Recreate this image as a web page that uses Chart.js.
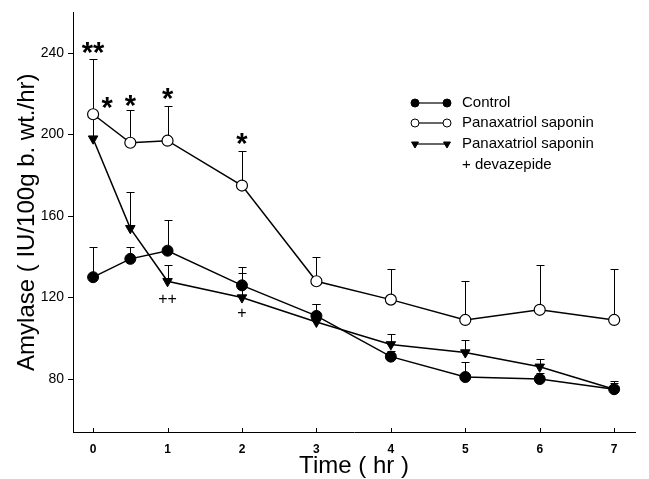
<!DOCTYPE html>
<html>
<head>
<meta charset="utf-8">
<script src="https://cdn.jsdelivr.net/npm/chart.js@4.4.1/dist/chart.umd.min.js"></script>
<style>
  html, body { margin: 0; padding: 0; background: #fff; }
  canvas { display: block; }
</style>
</head>
<body>
<canvas id="c" width="649" height="479"></canvas>
<script>
// time points (hr)
const times = [0, 0.5, 1, 2, 3, 4, 5, 6, 7];
const xTicks = [0, 1, 2, 3, 4, 5, 6, 7];
const yTicks = [80, 120, 160, 200, 240];

// amylase means and upper SD
const control = [130, 139, 143, 126, 111, 91, 81, 80, 75];
const controlSD = [15, 6, 15, 9, 6, 3, 7.5, 3, 3];
const saponin = [210, 196, 197, 175, 128, 119, 109, 114, 109];
const saponinSD = [27, 16, 17, 17, 12, 15, 19, 22, 25];
const saponinDev = [198, 154, 128, 120, 108, 97, 93, 86, 75];
const saponinDevSD = [10, 18, 8, 12, 9, 5, 6, 4, 4];

// significance marks
const markText = ['**', '*', '*', '*', '*', '++', '+'];
const markX = [0, 0.19, 0.5, 1, 2, 1, 2];
const markY = [242.5, 215.5, 216.5, 220, 198, 119.5, 112.5];

const FONT = '"Liberation Sans", Arial, Helvetica, sans-serif';

const toPts = arr => arr.map((v, i) => ({ x: times[i], y: v }));

const errorBars = {
  id: 'errorBars',
  beforeDatasetsDraw(chart) {
    const { ctx, scales: { x, y } } = chart;
    ctx.save();
    ctx.strokeStyle = '#000';
    ctx.lineWidth = 1;
    chart.data.datasets.forEach(ds => {
      ds.sd.forEach((sd, i) => {
        const px = Math.round(x.getPixelForValue(times[i])) + 0.5;
        const y0 = y.getPixelForValue(ds.data[i].y);
        const y1 = Math.round(y.getPixelForValue(ds.data[i].y + sd)) + 0.5;
        ctx.beginPath();
        ctx.moveTo(px, y0);
        ctx.lineTo(px, y1);
        ctx.moveTo(px - 4, y1);
        ctx.lineTo(px + 4, y1);
        ctx.stroke();
      });
    });
    ctx.restore();
  }
};

const extras = {
  id: 'extras',
  afterDraw(chart) {
    const { ctx, scales: { x, y } } = chart;
    ctx.save();
    // inward x ticks
    ctx.strokeStyle = '#000';
    ctx.lineWidth = 1;
    const base = chart.chartArea.bottom;
    xTicks.forEach(t => {
      const px = Math.round(x.getPixelForValue(t)) + 0.5;
      ctx.beginPath();
      ctx.moveTo(px, base);
      ctx.lineTo(px, base - 4);
      ctx.stroke();
    });

    // significance marks
    ctx.fillStyle = '#000';
    ctx.textAlign = 'center';
    ctx.textBaseline = 'alphabetic';
    markText.forEach((t, i) => {
      const star = t.indexOf('*') >= 0;
      ctx.font = star ? 'bold 29px ' + FONT : '16px ' + FONT;
      const m = ctx.measureText(t);
      const px = x.getPixelForValue(markX[i]);
      const py = y.getPixelForValue(markY[i]);
      ctx.fillText(t, px, py + (m.actualBoundingBoxAscent - m.actualBoundingBoxDescent) / 2);
    });

    // legend
    const rows = [103, 123, 144];
    const x0 = 415, x1 = 447;
    ctx.font = '15px ' + FONT;
    ctx.textAlign = 'left';
    ctx.textBaseline = 'middle';
    chart.data.datasets.forEach((ds, i) => {
      const ry = rows[i];
      ctx.beginPath();
      ctx.lineWidth = 1.2;
      ctx.strokeStyle = '#000';
      ctx.moveTo(x0, ry);
      ctx.lineTo(x1, ry);
      ctx.stroke();
      ctx.fillStyle = ds.pointBackgroundColor;
      ctx.lineWidth = 1;
      const opts = { pointStyle: ds.pointStyle, radius: 4, rotation: ds.pointRotation || 0, borderWidth: 1 };
      Chart.helpers.drawPoint(ctx, opts, x0, ry);
      Chart.helpers.drawPoint(ctx, opts, x1, ry);
      ctx.fillStyle = '#000';
      ctx.fillText(ds.label, 462, ry);
    });
    ctx.fillText('+ devazepide', 462, 165);
    ctx.restore();
  }
};

new Chart(document.getElementById('c'), {
  type: 'line',
  data: {
    datasets: [
      {
        label: 'Control',
        data: toPts(control), sd: controlSD,
        borderColor: '#000', borderWidth: 1.5,
        pointStyle: 'circle', pointRadius: 5.5,
        pointBackgroundColor: '#000', pointBorderColor: '#000', pointBorderWidth: 1
      },
      {
        label: 'Panaxatriol saponin',
        data: toPts(saponin), sd: saponinSD,
        borderColor: '#000', borderWidth: 1.5,
        pointStyle: 'circle', pointRadius: 5.5,
        pointBackgroundColor: '#fff', pointBorderColor: '#000', pointBorderWidth: 1.2
      },
      {
        label: 'Panaxatriol saponin',
        data: toPts(saponinDev), sd: saponinDevSD,
        borderColor: '#000', borderWidth: 1.5,
        pointStyle: 'triangle', pointRotation: 180, pointRadius: 5.5,
        pointBackgroundColor: '#000', pointBorderColor: '#000', pointBorderWidth: 1
      }
    ]
  },
  options: {
    responsive: false,
    animation: false,
    layout: { padding: { top: 10, right: 14, left: 0, bottom: 0 } },
    plugins: { legend: { display: false }, tooltip: { enabled: false } },
    scales: {
      x: {
        type: 'linear', min: -0.27, max: 7.28,
        afterBuildTicks: s => { s.ticks = xTicks.map(v => ({ value: v })); },
        afterFit: s => { s.height = 47; },
        grid: { drawOnChartArea: false, drawTicks: false },
        border: { color: '#000', width: 1 },
        ticks: { padding: 10, color: '#000', autoSkip: false, maxRotation: 0,
                 font: { family: FONT, size: 12, weight: 'bold' } },
        title: { display: true, text: 'Time ( hr )', color: '#000',
                 font: { family: FONT, size: 24 }, padding: { top: 0, bottom: -2 } }
      },
      y: {
        min: 54, max: 260,
        afterBuildTicks: s => { s.ticks = yTicks.map(v => ({ value: v })); },
        afterFit: s => { s.width = 73; },
        grid: { drawOnChartArea: false, tickLength: 5, color: '#000' },
        border: { color: '#000', width: 1 },
        ticks: { padding: 4, color: '#000', font: { family: FONT, size: 14 } },
        title: { display: true, text: 'Amylase ( IU/100g b. wt./hr)', color: '#000',
                 font: { family: FONT, size: 24 }, padding: { top: 13, bottom: 0 } }
      }
    }
  },
  plugins: [errorBars, extras]
});
</script>
</body>
</html>
